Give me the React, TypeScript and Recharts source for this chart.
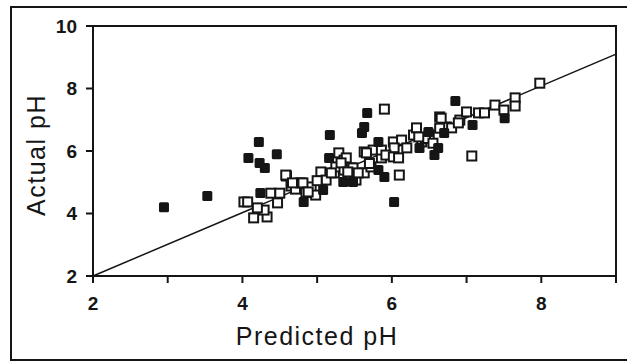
import React from "react";
import {
  ScatterChart,
  Scatter,
  XAxis,
  YAxis,
  ReferenceLine,
  ReferenceArea,
  Label,
} from "recharts";

// open squares
const openPredicted = [
  4.02, 4.15, 4.33, 4.29, 4.2, 4.38, 4.47, 4.5, 4.59, 4.65, 4.71, 4.78, 4.85,
  4.92, 4.98, 5.05, 5.12, 5.23, 5.29, 5.36, 5.45, 5.49, 5.39, 5.63, 5.75, 5.86,
  6.02, 6.13, 6.29, 6.33, 6.4, 6.5, 6.64, 6.73, 6.8, 6.91, 7.0, 7.16, 7.24,
  7.38, 7.65, 7.98, 7.65, 7.5, 6.89, 6.66, 6.64, 6.2, 6.03, 5.86, 5.25, 5.36,
  5.48, 5.52, 5.63, 5.72, 5.92, 6.02, 6.09, 6.1, 4.58, 4.67, 4.81, 4.88, 5.19,
  5.32, 5.41, 5.55, 5.66, 4.07, 5.9, 6.45, 6.55, 6.36, 7.07, 5.0, 5.7,
];
const openActual = [
  4.37, 3.86, 3.89, 4.11, 4.18, 4.65, 4.34, 4.65, 5.2, 4.88, 4.78, 4.98, 4.67,
  4.85, 4.59, 5.33, 5.07, 5.3, 5.94, 5.71, 5.46, 5.14, 5.78, 5.97, 6.03, 5.78,
  6.29, 6.35, 6.51, 6.74, 6.29, 6.51, 7.09, 6.77, 6.74, 6.99, 7.25, 7.22, 7.22,
  7.47, 7.7, 8.17, 7.44, 7.31, 6.9, 7.05, 6.73, 6.1, 6.1, 6.03, 5.49, 5.39,
  5.46, 5.07, 5.3, 5.49, 5.87, 5.81, 5.78, 5.23, 5.23, 4.98, 4.98, 4.69, 5.3,
  5.62, 5.33, 5.3, 5.94, 4.37, 7.34, 6.4, 6.25, 6.45, 5.84, 5.05, 5.6,
];

// filled squares
const filledPredicted = [
  2.95, 3.53, 4.22, 4.08, 4.23, 4.3, 4.46, 4.24, 5.17, 5.67, 5.63, 5.6, 6.85,
  6.03, 6.57, 6.62, 7.51, 7.08, 6.7, 6.49, 5.82, 4.82, 5.16, 5.35, 5.48, 5.82,
  5.9, 6.37, 5.08,
];
const filledActual = [
  4.2, 4.56, 6.29, 5.78, 5.62, 5.46, 5.9, 4.66, 6.51, 7.22, 6.77, 6.58, 7.6,
  4.37, 5.87, 6.1, 7.05, 6.83, 6.58, 6.61, 6.29, 4.37, 5.78, 5.01, 5.01, 5.39,
  5.17, 6.1, 4.75,
];

const xTicks = [2, 3, 4, 5, 6, 7, 8, 9];
const yTicks = [2, 4, 6, 8, 10];

const openData = openPredicted.map((x, i) => ({ x, y: openActual[i] }));
const filledData = filledPredicted.map((x, i) => ({ x, y: filledActual[i] }));

const INK = "#151515";
const FONT = "'Liberation Sans', Arial, sans-serif";

const OpenSquare = (p: any) => (
  <rect
    x={p.cx - 4.5}
    y={p.cy - 4.5}
    width={9}
    height={9}
    fill="#fff"
    stroke={INK}
    strokeWidth={2}
  />
);

const FilledSquare = (p: any) => (
  <rect
    x={p.cx - 5}
    y={p.cy - 5}
    width={10}
    height={10}
    rx={1.5}
    fill={INK}
  />
);

const tickStyle = {
  fill: INK,
  fontSize: 19,
  fontWeight: 700,
  fontFamily: FONT,
};

export default function App() {
  return (
    <div
      style={{
        position: "fixed",
        left: 0,
        top: 0,
        width: 627,
        height: 361,
        background: "#fff",
      }}
    >
      <div
        style={{
          position: "absolute",
          left: 10,
          top: 6,
          width: 630,
          height: 351,
          border: `2px solid ${INK}`,
        }}
      />
      <div style={{ position: "absolute", left: 0, top: 0 }}>
        <ScatterChart
          width={627}
          height={361}
          margin={{ top: 26, right: 11, bottom: 0, left: 0 }}
        >
          <XAxis
            dataKey="x"
            type="number"
            domain={[2, 9]}
            ticks={xTicks}
            allowDataOverflow
            tickFormatter={(v: number) => (v % 2 === 0 ? String(v) : "")}
            height={85}
            tickSize={7}
            tickMargin={14}
            axisLine={{ stroke: INK, strokeWidth: 2 }}
            tickLine={{ stroke: INK, strokeWidth: 2 }}
            tick={tickStyle}
          >
            <Label
              content={() => (
                <text
                  x={317}
                  y={345}
                  textAnchor="middle"
                  fill={INK}
                  fontSize={25}
                  letterSpacing={1.5}
                  fontFamily={FONT}
                >
                  Predicted pH
                </text>
              )}
            />
          </XAxis>
          <YAxis
            dataKey="y"
            type="number"
            domain={[2, 10]}
            ticks={yTicks}
            allowDataOverflow
            width={93}
            tickSize={7}
            tickMargin={9}
            axisLine={{ stroke: INK, strokeWidth: 2 }}
            tickLine={{ stroke: INK, strokeWidth: 2 }}
            tick={tickStyle}
          >
            <Label
              content={() => (
                <text
                  x={45}
                  y={155}
                  textAnchor="middle"
                  transform="rotate(-90, 45, 155)"
                  fill={INK}
                  fontSize={25}
                  letterSpacing={1.5}
                  fontFamily={FONT}
                >
                  Actual pH
                </text>
              )}
            />
          </YAxis>
          <ReferenceArea
            x1={2}
            x2={9}
            y1={2}
            y2={10}
            fill="none"
            stroke={INK}
            strokeWidth={2}
          />
          <ReferenceLine
            segment={[
              { x: 2, y: 2 },
              { x: 9, y: 9.1 },
            ]}
            stroke={INK}
            strokeWidth={1.5}
          />
          <Scatter
            data={openData}
            shape={OpenSquare}
            isAnimationActive={false}
          />
          <Scatter
            data={filledData}
            shape={FilledSquare}
            isAnimationActive={false}
          />
        </ScatterChart>
      </div>
    </div>
  );
}
